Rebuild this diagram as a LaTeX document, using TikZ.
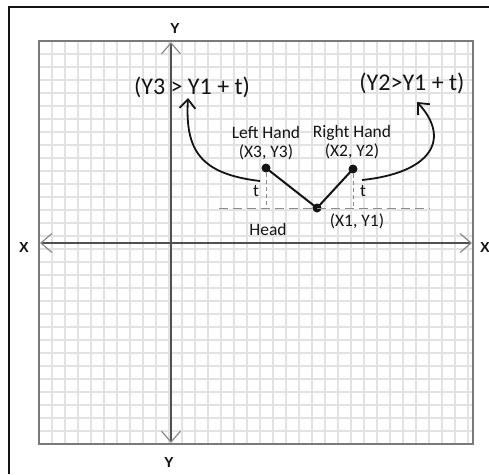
\documentclass[tikz,border=0pt]{standalone}
\usepackage{fontspec}
\setmainfont{Carlito}
\newfontfamily\axisfont{Liberation Sans}
\usetikzlibrary{arrows.meta,positioning,calc}
\definecolor{gridln}{HTML}{E2E2E2}
\definecolor{gridedge}{HTML}{7A7A7A}
\definecolor{axisln}{HTML}{505050}
\definecolor{tipgray}{HTML}{8A8A8A}
\definecolor{ink}{HTML}{141414}
\definecolor{dashgray}{HTML}{8C8C8C}
\tikzset{
  frame/.style={draw=ink,line width=1.6pt},
  gridline/.style={draw=gridln,line width=1.3pt},
  gridframe/.style={draw=gridedge,line width=2pt},
  axis/.style={draw=axisln,line width=1.3pt,{Straight Barb[length=11pt,width=19pt,color=tipgray,line width=1.2pt]}-{Straight Barb[length=11pt,width=19pt,color=tipgray,line width=1.2pt]}},
  axlbl/.style={font=\axisfont\bfseries\fontsize{14.5}{17}\selectfont,text=ink,inner sep=0pt},
  lbl/.style={font=\fontsize{17.5}{19}\selectfont,text=ink,inner sep=0pt,align=center},
  cond/.style={font=\fontsize{24}{26}\selectfont,text=ink,inner sep=0pt},
  dot/.style={circle,fill=ink,minimum size=9pt,inner sep=0pt},
  limb/.style={draw=ink,line width=2pt},
  guide/.style={draw=dashgray,line width=1pt,dash pattern=on 9pt off 5pt},
  tick/.style={draw=dashgray,line width=1pt,dash pattern=on 4pt off 3pt},
  curvearrow/.style={draw=ink,line width=1.8pt,-{Straight Barb[length=9pt,width=16pt,line width=1.8pt]}},
}
\begin{document}
\begin{tikzpicture}[x=1pt,y=-1pt]
  \useasboundingbox (0,0) rectangle (489,474);
  % outer frame, cut by the page on the right and at the bottom
  \draw[frame] (9,474) -- (9,7) -- (489,7);
  % grid paper
  \foreach \gx in {52,65,...,468} \draw[gridline] (\gx,41) -- (\gx,444);
  \foreach \gy in {54,67,...,441} \draw[gridline] (39,\gy) -- (473,\gy);
  \draw[gridframe] (39,41) rectangle (473,444);
  % axes
  \coordinate (ytop) at (171,42);
  \coordinate (ybot) at (171,443);
  \coordinate (xleft) at (40,243);
  \coordinate (xright) at (472,243);
  \draw[axis] (ytop) -- (ybot);
  \draw[axis] (xleft) -- (xright);
  \node[axlbl] (ylabtop) at (175,29) {Y};
  \node[axlbl] (ylabbot) at (169,463) {Y};
  \node[axlbl] (xlableft) at (24,248) {X};
  \node[axlbl,anchor=west] (xlabright) at (480,248) {X};
  % head and hands
  \node[dot] (head) at (317,208) {};
  \node[dot] (lhand) at (266,168) {};
  \node[dot] (rhand) at (353,169) {};
  \draw[limb] (lhand.center) -- (head.center) -- (rhand.center);
  \node[lbl,anchor=south] (lhandlbl) at (266,160) {Left Hand\\(X3, Y3)};
  \node[lbl,anchor=south] (rhandlbl) at (352,159) {Right Hand\\(X2, Y2)};
  \node[lbl] (headpos) at (357,221) {(X1, Y1)};
  \node[lbl] (headlbl) at (268,229) {Head};
  % threshold line and offsets
  \coordinate (dl) at (219,208);
  \coordinate (dr) at (430,208);
  \draw[guide] (dl) -- (dr);
  \draw[tick] (lhand.south) -- (lhand |- dl);
  \draw[tick] (rhand.south) -- (rhand |- dl);
  \node[lbl] (tl) at (256,191) {t};
  \node[lbl] (tr) at (363,191) {t};
  % conditions
  \node[cond] (cond3) at (192,87) {(Y3 > Y1 + t)};
  \node[cond] (cond2) at (412,83) {(Y2>Y1 + t)};
  \coordinate (lstart) at (260,181);
  \coordinate (ltip) at (188,98);
  \coordinate (rstart) at (362,180);
  \coordinate (rtip) at (417,102);
  \draw[curvearrow] (lstart) .. controls (200,174) and (185,150) .. (ltip);
  \draw[curvearrow] (rstart) .. controls (430,173) and (452,140) .. (rtip);
\end{tikzpicture}
\end{document}
